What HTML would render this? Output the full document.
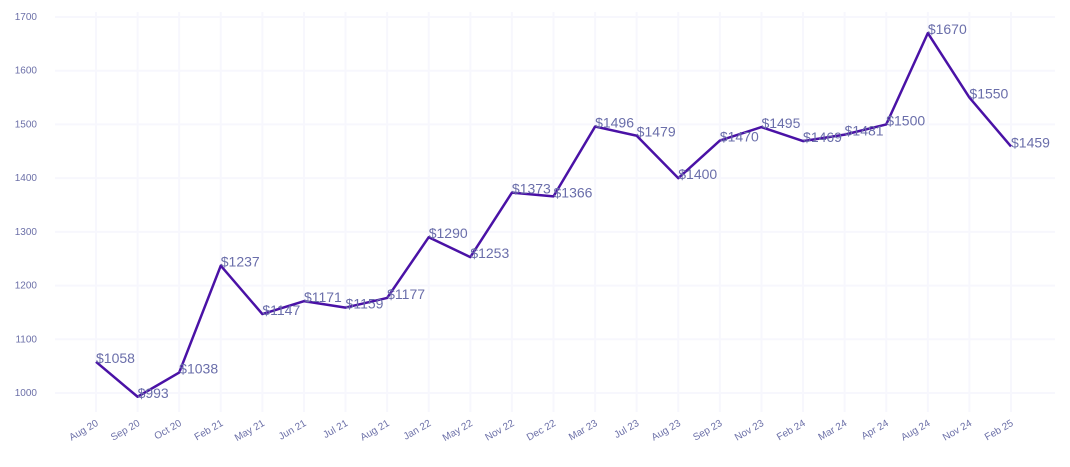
<!DOCTYPE html>
<html><head><meta charset="utf-8"><style>
body{margin:0;background:#fff}
svg{display:block;font-family:"Liberation Sans",sans-serif}
</style></head><body>
<svg id="c" width="1070" height="467"></svg>
<script>
const categories=["Aug 20","Sep 20","Oct 20","Feb 21","May 21","Jun 21","Jul 21","Aug 21","Jan 22","May 22","Nov 22","Dec 22","Mar 23","Jul 23","Aug 23","Sep 23","Nov 23","Feb 24","Mar 24","Apr 24","Aug 24","Nov 24","Feb 25"];
const values=[1058,993,1038,1237,1147,1171,1159,1177,1290,1253,1373,1366,1496,1479,1400,1470,1495,1469,1481,1500,1670,1550,1459];
const yTicks=[1000,1100,1200,1300,1400,1500,1600,1700];
const NS="http://www.w3.org/2000/svg";
const svg=document.getElementById('c');
const x=i=>96+i*(1011-96)/(categories.length-1);
const y=v=>393-(v-1000)*(376/700);
function mk(t,a,p){const e=document.createElementNS(NS,t);for(const k in a)e.setAttribute(k,a[k]);(p||svg).appendChild(e);return e;}
const grid=mk('g',{});


yTicks.forEach(t=>{
  const l=mk('line',{x1:55,x2:1055,y1:y(t),y2:y(t),stroke:'#f7f7fd','stroke-width':2},grid);
  
  
  const tx=mk('text',{x:37,y:y(t)+3,'text-anchor':'end','font-size':10,fill:'#6c70a8'});
  tx.textContent=t;
  
  
});
categories.forEach((c,i)=>{
  const l=mk('line',{x1:x(i),x2:x(i),y1:12,y2:412,stroke:'#f7f7fd','stroke-width':2},grid);
  
  
  const tx=mk('text',{x:x(i)+3,y:425,'text-anchor':'end','font-size':10,fill:'#6c70a8',transform:`rotate(-30 ${x(i)+3} 425)`});
  tx.textContent=c;
  
  
});
const pl=mk('polyline',{points:values.map((v,i)=>x(i)+','+y(v)).join(' '),fill:'none',stroke:'#4a12a6','stroke-width':2.5,'stroke-linejoin':'round'});


values.forEach((v,i)=>{
  const tx=mk('text',{x:x(i),y:y(v)+1,'font-size':14,fill:'#6a6eaa'});
  tx.textContent='$'+v;
  
  
});
</script>
</body></html>
